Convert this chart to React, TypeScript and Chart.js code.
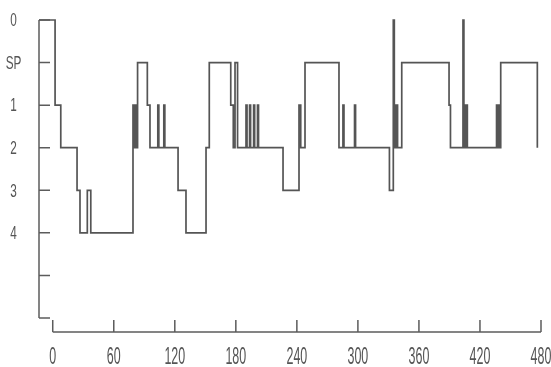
import React, { useEffect, useRef } from 'react';
import { Chart, registerables } from 'chart.js';

Chart.register(...registerables);

// Stage index: 0 = "0" (wake), 1 = "SP", 2 = "1", 3 = "2", 4 = "3", 5 = "4"
const stageLabels = ['0', 'SP', '1', '2', '3', '4', ''];
const xTickValues = [0, 60, 120, 180, 240, 300, 360, 420, 480];

// Times (minutes) at which the stage changes, and the stage entered
const sleepTimes = [
  -13.5, 2.3, 7.9, 23.9, 26.8, 34.0, 37.4,
  78.9, 79.9, 80.9, 81.9, 83.4, 93.0, 95.6,
  103.3, 104.3, 109.2, 110.2, 123.2, 131.0, 150.7, 153.9,
  175.0, 177.5, 179.2, 181.7,
  190.0, 191.0, 193.5, 194.5, 197.5, 198.5, 201.3, 202.3,
  226.4, 242.1, 243.8, 248.0, 281.4,
  285.3, 286.3, 296.7, 297.7,
  331.0, 334.8, 335.8, 336.6, 337.4, 338.2, 339.0, 343.1,
  389.6, 391.0,
  403.3, 404.2, 405.0, 405.9, 406.7, 407.6,
  436.3, 437.3, 438.3, 439.2, 440.4, 476.4,
];
const sleepStages = [
  0, 2, 3, 4, 5, 4, 5,
  2, 3, 2, 3, 1, 2, 3,
  2, 3, 2, 3, 4, 5, 3, 1,
  2, 3, 1, 3,
  2, 3, 2, 3, 2, 3, 2, 3,
  4, 2, 3, 1, 3,
  2, 3, 2, 3,
  4, 0, 3, 2, 3, 2, 3, 1,
  2, 3,
  0, 3, 2, 3, 2, 3,
  2, 3, 2, 3, 1, 3,
];

const X_MIN = -13.5;
const X_MAX = 480;
const Y_MAX = 7;

function drawCondensed(ctx: CanvasRenderingContext2D, text: string, cx: number, cy: number, size: number, sx: number) {
  ctx.save();
  ctx.translate(cx, cy);
  ctx.scale(sx, 1);
  ctx.font = `${size}px 'Liberation Sans', Arial, sans-serif`;
  ctx.textAlign = 'center';
  ctx.textBaseline = 'middle';
  ctx.fillText(text, 0, 0);
  ctx.restore();
}

const axesPlugin = {
  id: 'hypnoAxes',
  afterDraw(chart: any) {
    const ctx: CanvasRenderingContext2D = chart.ctx;
    const xs = chart.scales.x;
    const ys = chart.scales.y;
    const ax = chart.chartArea.left;
    const yTop = ys.getPixelForValue(0);
    const yBot = ys.getPixelForValue(Y_MAX);
    const xAxisY = yBot + 14;
    ctx.save();
    ctx.strokeStyle = '#5c5c5c';
    ctx.lineWidth = 1.5;
    ctx.beginPath();
    ctx.moveTo(ax, yTop);
    ctx.lineTo(ax, yBot);
    for (let i = 0; i <= Y_MAX; i++) {
      const py = ys.getPixelForValue(i);
      ctx.moveTo(ax, py);
      ctx.lineTo(ax + 11, py);
    }
    ctx.moveTo(xs.getPixelForValue(0), xAxisY);
    ctx.lineTo(xs.getPixelForValue(480), xAxisY);
    for (const v of xTickValues) {
      const px = xs.getPixelForValue(v);
      ctx.moveTo(px, xAxisY);
      ctx.lineTo(px, xAxisY - 12);
    }
    ctx.stroke();

    ctx.fillStyle = '#555555';
    stageLabels.forEach((lab, i) => {
      if (!lab) return;
      drawCondensed(ctx, lab, 13.5, ys.getPixelForValue(i) + 1, 19, 0.62);
    });
    xTickValues.forEach((v) => {
      drawCondensed(ctx, String(v), xs.getPixelForValue(v), xAxisY + 25, 24, 0.52);
    });
    ctx.restore();
  },
};

export default function App() {
  const ref = useRef<HTMLCanvasElement | null>(null);
  useEffect(() => {
    if (!ref.current) return;
    const points = sleepTimes.map((t, i) => ({ x: t, y: sleepStages[i] }));
    const chart = new Chart(ref.current, {
      type: 'line',
      data: {
        datasets: [
          {
            data: points,
            stepped: true,
            borderColor: '#555555',
            borderWidth: 1.7,
            pointRadius: 0,
            fill: false,
            clip: false as any,
          },
        ],
      },
      options: {
        responsive: false,
        animation: false,
        layout: { padding: { top: 20, right: 10, left: 0, bottom: 0 } },
        plugins: { legend: { display: false }, tooltip: { enabled: false } },
        scales: {
          x: {
            type: 'linear',
            min: X_MIN,
            max: X_MAX,
            grid: { display: false },
            border: { display: false },
            ticks: { display: false },
            afterFit: (s: any) => {
              s.height = 49;
            },
          },
          y: {
            type: 'linear',
            reverse: true,
            min: 0,
            max: Y_MAX,
            grid: { display: false },
            border: { display: false },
            ticks: { display: false },
            afterFit: (s: any) => {
              s.width = 39;
            },
          },
        },
      },
      plugins: [axesPlugin],
    });
    return () => chart.destroy();
  }, []);
  return (
    <div style={{ position: 'absolute', left: 0, top: 0, width: 551, height: 367, background: '#fff' }}>
      <canvas ref={ref} width={551} height={367} style={{ display: 'block' }} />
    </div>
  );
}
